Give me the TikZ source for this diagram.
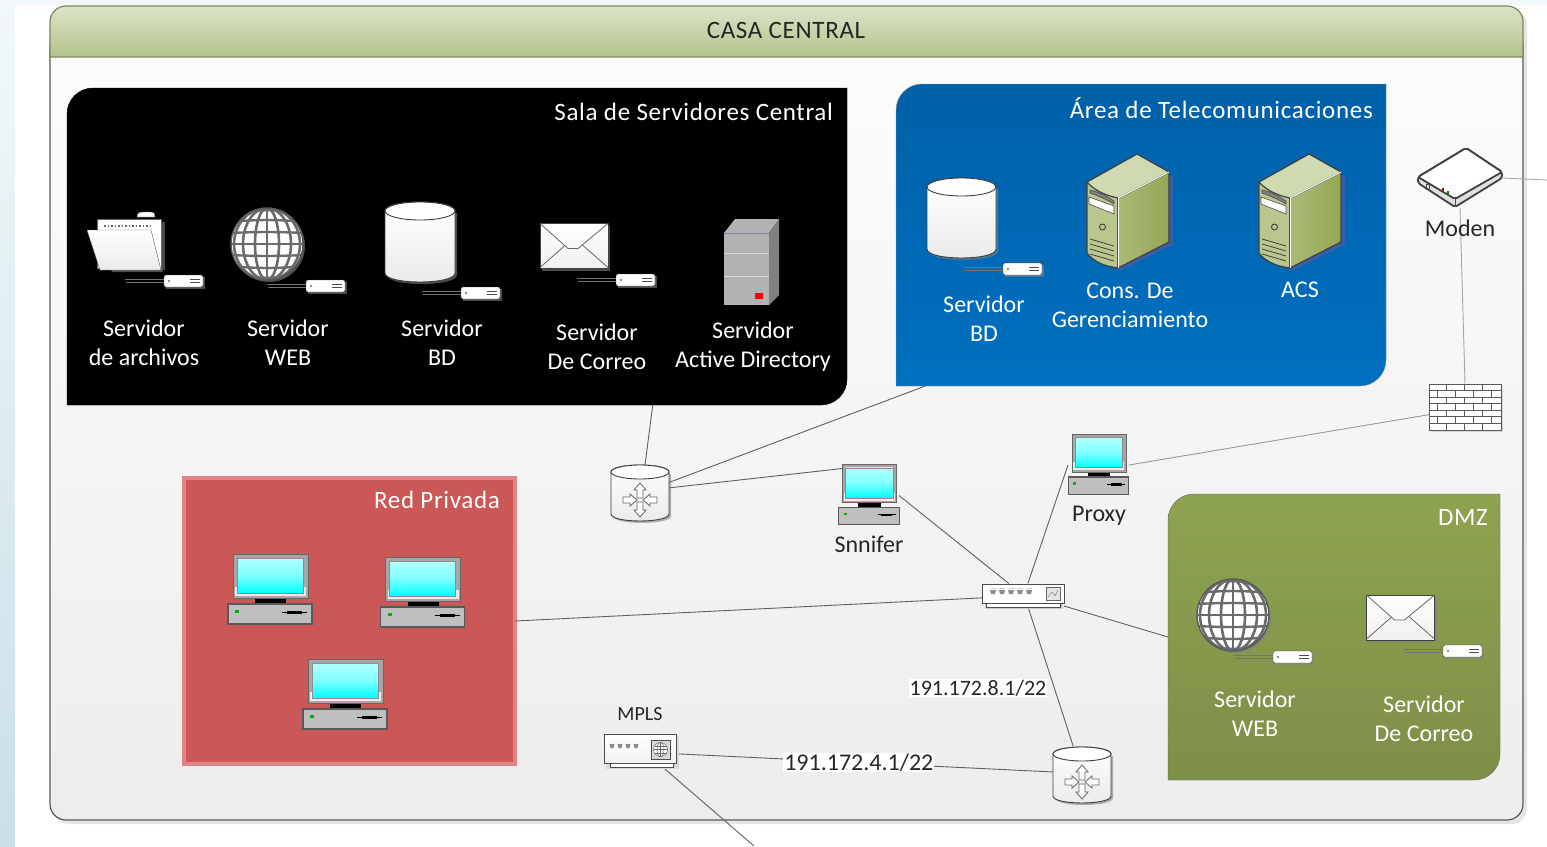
\documentclass[tikz,border=0pt]{standalone}
\usepackage{fontspec}
\setmainfont{Carlito}
\usetikzlibrary{calc}
\definecolor{headtop}{HTML}{DCE4C9}
\definecolor{headbot}{HTML}{B2C38C}
\definecolor{headline}{HTML}{7B8A5C}
\definecolor{bluetop}{HTML}{0060A8}
\definecolor{bluebot}{HTML}{0070C0}
\definecolor{redzone}{HTML}{CC5757}
\definecolor{redline}{HTML}{E08484}
\definecolor{greentop}{HTML}{8EA351}
\definecolor{greenbot}{HTML}{7E8F47}
\definecolor{towerside}{HTML}{95A755}
\definecolor{towerfront}{HTML}{B9C78E}
\definecolor{towertop}{HTML}{CFD9B2}
\definecolor{wire}{HTML}{606060}
\definecolor{iconline}{HTML}{404040}
\definecolor{stripetop}{HTML}{F2F8FA}
\definecolor{stripebot}{HTML}{C9E0E7}
\tikzset{
	hitbox/.style={inner sep=0pt, outer sep=0pt},
	link/.style={color=wire, line width=0.9pt},
	lblblack/.style={font=\fontsize{#1}{29}\selectfont, align=center, inner sep=0pt, text=black!85},
	lblblack/.default=24,
	lblwhite/.style={font=\fontsize{24}{29}\selectfont, align=center, inner sep=0pt, text=white},
	lblhead/.style={font=\fontsize{25}{29}\selectfont\addfontfeature{LetterSpace=2.7}, inner sep=0pt, text=#1},
	lblip/.style={font=\fontsize{#1}{24}\selectfont, fill=white, text=black!85, inner sep=1pt},
	iconshadow/.style={fill=gray, fill opacity=0.6, draw=none},
}
\def\zonebox[#1](#2){\draw[#1] (#2.west) [rounded corners=26pt] -- (#2.north west) [sharp corners] -- (#2.north east) [rounded corners=26pt] -- (#2.south east) [sharp corners] -- (#2.south west) -- cycle;}
\def\pcicon(#1)[#2,#3]{
	\begin{scope}[shift={(#1)}, xscale=#2, yscale=#3]
		\draw[fill=black!35, draw=black!60] (-37,-36) rectangle (38,8);
		\fill[white!90!red] (-35,-3) rectangle (36,6);
		\draw[draw=black!45, top color=white!70!cyan, bottom color=cyan, middle color=cyan!50] (-33,-32) rectangle (33,3);
		\fill[black] (-15,9) rectangle (16,13);
		\draw[fill=black!25, draw=black!65, line width=1.2pt] (-42,14) rectangle (42,34);
		\fill[green!70!black] (-35,20) rectangle (-31,23);
		\draw[black, line width=0.8pt] (12,22.5) -- (37,22.5);
		\draw[black, line width=2.5pt] (17,22.5) -- (32,22.5);
	\end{scope}
}
\def\cylicon(#1)(#2,#3,#4){
	\begin{scope}[shift={(#1)}]
		\fill[iconshadow] (-#2+2,-#3+2) -- (-#2+2,#3+2) .. controls (-#2+2,#3+2+1.33*#4) and (#2+2,#3+2+1.33*#4) .. (#2+2,#3+2) -- (#2+2,-#3+2) -- cycle;
		\draw[draw=iconline, top color=white, bottom color=black!8, line width=0.9pt] (-#2,-#3) -- (-#2,#3) .. controls (-#2,#3+1.33*#4) and (#2,#3+1.33*#4) .. (#2,#3) -- (#2,-#3) .. controls (#2,-#3-1.33*#4) and (-#2,-#3-1.33*#4) .. (-#2,-#3) -- cycle;
		\draw[fill=white, draw=iconline, line width=0.9pt] (0,-#3) ellipse (#2pt and #4pt);
	\end{scope}
}
\def\routericon(#1){
	\cylicon(#1)(29,21,7)
	\begin{scope}[shift={(#1)}, shift={(0,7)}]
		\foreach \rot in {0,180} {
			\draw[rotate=\rot, fill=white, draw=black!60, line width=0.8pt] (0,-17) -- (6,-10) -- (3,-10) -- (3,-2) -- (-3,-2) -- (-3,-10) -- (-6,-10) -- cycle;
		}
		\foreach \rot in {90,270} {
			\draw[rotate=\rot, fill=white, draw=black!60, line width=0.8pt] (0,-3) -- (6,-10) -- (3,-10) -- (3,-17) -- (-3,-17) -- (-3,-10) -- (-6,-10) -- cycle;
		}
	\end{scope}
}
\def\badgeicon(#1,#2){
	\begin{scope}[shift={(#1,#2)}]
		\fill[iconshadow] (2,2) rectangle (41,14);
		\draw[black!55, line width=0.7pt] (-39,4) -- (0,4);
		\draw[black!55, line width=0.7pt] (-38,7) -- (0,7);
		\draw[fill=white, draw=iconline, rounded corners=1.5pt] (0,0) rectangle (39,12);
		\fill[black!60] (5,6) circle (1.2pt);
		\draw[black!70, line width=0.9pt] (26,4) -- (36,4);
		\draw[black!70, line width=0.9pt] (26,7.5) -- (36,7.5);
	\end{scope}
}
\def\globeicon(#1){
	\begin{scope}[shift={(#1)}]
		\fill[iconshadow] (2,2) circle (36pt);
		\fill[white] (0,0) circle (36pt);
		\begin{scope}
			\clip (0,0) circle (36pt);
			\foreach \rad in {12,24,33} {
				\draw[black!58, line width=2.6pt] (0,0) ellipse (\rad pt and 36pt);
			}
			\foreach \hgt in {-31,-22,-11,11,22,31} {
				\draw[black!58, line width=2.4pt] (-36,\hgt) .. controls (-12,{\hgt*1.12}) and (12,{\hgt*1.12}) .. (36,\hgt);
			}
			\draw[black!58, line width=2.4pt] (-36,0) -- (36,0);
			\draw[black!58, line width=2.6pt] (0,-36) -- (0,36);
		\end{scope}
		\draw[black!65, line width=1.4pt] (0,0) circle (36pt);
	\end{scope}
}
\def\mailicon(#1){
	\begin{scope}[shift={(#1)}]
		\fill[iconshadow] (-32,-20) rectangle (36,25);
		\draw[draw=iconline, top color=white, bottom color=black!6, line width=0.9pt] (-34,-22) rectangle (34,23);
		\draw[black!60, line width=0.8pt] (-34,-22) -- (-6,3) -- (4,3) -- (34,-22);
		\draw[black!60, line width=0.8pt] (-34,22) -- (-9,0);
		\draw[black!60, line width=0.8pt] (34,22) -- (9,0);
	\end{scope}
}
\def\towericon(#1){
	\begin{scope}[shift={(#1)}]
		\fill[blue!30!gray, fill opacity=0.6] (-38,44) -- (-8,60) -- (45,34) -- (45,-36) -- (20,-30) -- cycle;
		\draw[draw=iconline, fill=towerfront, line width=1.2pt, line join=round] (-41,-29) -- (-10,-13) -- (-10,57) .. controls (-25,55) and (-35,50) .. (-41,42) -- cycle;
		\draw[draw=iconline, left color=towerfront!60!towerside, right color=towerside, line width=1.2pt, line join=round] (-10,-13) -- (41,-39) -- (41,31) -- (-10,57) -- cycle;
		\draw[draw=iconline, fill=towertop, line width=1.2pt, line join=round] (-41,-29) -- (9,-57) -- (41,-39) -- (-10,-13) .. controls (-25,-16) and (-35,-22) .. (-41,-29) -- cycle;
		\draw[white, line width=1pt] (-10,-13) -- (41,-39);
		\draw[white, line width=1pt] (-10,-13) -- (-10,57);
		\draw[black!70, fill=black!50, line width=0.6pt] (-38,-21) .. controls (-28,-19) and (-20,-14) .. (-14,-10) -- (-14,-7) .. controls (-22,-12) and (-30,-15) .. (-38,-18) -- cycle;
		\draw[black!70, fill=white, line width=0.6pt] (-39,-14) -- (-14,-5) -- (-14,3) -- (-39,-7) -- cycle;
		\draw[iconline, fill=towerfront, line width=0.9pt] (-25.5,16) circle (3pt);
		\foreach \off in {0,5,10,15} {
			\draw[iconline, line width=0.8pt] (-38,{33+\off-5}) -- (-14,{40+\off-5});
		}
	\end{scope}
}

\begin{document}
\begin{tikzpicture}[x=1pt, y=-1pt]
			%%%%% START %%%%%
			\useasboundingbox (0,0) rectangle (1547,846);
			
			\fill[top color=stripetop, bottom color=stripebot] (0,0) rectangle (15,846);
			\fill[stripetop] (15,0) rectangle (1547,5);
			
			% casa central
			\fill[black!10, rounded corners=16pt] (53,9) rectangle (1527,824);
			\draw[draw=black!65, line width=1.2pt, top color=black!1, bottom color=black!7, rounded corners=16pt] (50,30) rectangle (1523,820);
			\draw[draw=headline, line width=1.2pt, top color=headtop, bottom color=headbot] (50,57) -- (50,22) arc[start angle=180, end angle=90, radius=16pt] -- (1507,6) arc[start angle=90, end angle=0, radius=16pt] -- (1523,57) -- cycle;
			\node[lblhead=black!85] (casa) at (786,30) {CASA CENTRAL};
			
			% zones
			\node[hitbox, minimum width=780pt, minimum height=317pt] (sala) at (457,246.5) {};
			\node[hitbox, minimum width=490pt, minimum height=302pt] (telecom) at (1141,235) {};
			\node[hitbox, minimum width=331pt, minimum height=286pt] (redpriv) at (349.5,621) {};
			\node[hitbox, minimum width=332pt, minimum height=286pt] (dmz) at (1334,637) {};
			
			\zonebox[fill=black!25, draw=none, shift={(3,3)}](sala)
			\zonebox[fill=black!25, draw=none, shift={(3,3)}](telecom)
			\zonebox[fill=black!25, draw=none, shift={(3,3)}](dmz)
			\zonebox[fill=black](sala)
			\zonebox[draw=black!40, top color=bluetop, bottom color=bluebot](telecom)
			\zonebox[draw=black!60, top color=greentop, bottom color=greenbot](dmz)
			\draw[fill=redzone, draw=redline, line width=4.5pt] (redpriv.south west) rectangle (redpriv.north east);
			
			% devices
			\node[hitbox, minimum width=58pt, minimum height=58pt] (routerA) at (640,493) {};
			\node[hitbox, minimum width=58pt, minimum height=58pt] (routerB) at (1082,775) {};
			\node[hitbox, minimum width=60pt, minimum height=60pt] (snnifer) at (869,495.5) {};
			\node[hitbox, minimum width=61pt, minimum height=60pt] (proxy) at (1098.5,465) {};
			\node[hitbox, minimum width=82pt, minimum height=23pt] (switch) at (1023,595) {};
			\node[hitbox, minimum width=72pt, minimum height=34pt] (mpls) at (640,750) {};
			\node[hitbox, minimum width=72pt, minimum height=46pt] (firewall) at (1465,407) {};
			\node[hitbox, minimum width=84pt, minimum height=60pt] (moden) at (1460,178) {};
			\coordinate (wan) at (1547,180);
			\coordinate (mplsout) at (754,846);
			
			% links
			\draw[link] (routerA.80) -- (sala.-39.1);
			\draw[link] (routerA.20) -- (telecom.215.2);
			\draw[link] (routerA.10) -- (snnifer.north);
			\draw[link] (snnifer.east) -- (switch.141);
			\draw[link] (proxy.west) -- (switch.67);
			\draw[link, color=black!40] (proxy.east) -- (firewall.192.5);
			\draw[link, color=black!35] (moden.south) -- (firewall.north);
			\draw[link, color=black!35] (moden.east) -- (wan);
			\draw[link] (redpriv.east) -- (switch.184);
			\draw[link] (switch.-15.7) -- (dmz.west);
			\draw[link] (switch.-67) -- (routerB.107);
			\draw[link] (mpls.-37.7) -- (mplsout);
			\draw[link] (mpls.-6) -- node[lblip=24, pos=0.485] (ipmpls) {191.172.4.1/22} (routerB.174);
			\node[lblip=22] (ipswitch) at (978,688) {191.172.8.1/22};
			
			% sala de servidores
			\node[lblhead=white, anchor=east] (salatxt) at (833,112) {Sala de Servidores Central};
			\fill[iconshadow] (100,231) -- (151,231) -- (163,272) -- (112,272) -- cycle;
			\fill[iconshadow] (100,222) rectangle (165,270);
			\draw[fill=white, draw=black!60] (137,217) .. controls (137,212) and (140,212) .. (145,212) -- (150,212) .. controls (155,212) and (155,214) .. (155,217) -- cycle;
			\draw[fill=white, draw=black!60] (97,219) rectangle (161,268);
			\draw[black!60, dotted, line width=1.5pt] (104,226) -- (152,226);
			\draw[draw=black!60, top color=white, bottom color=black!8, line join=round] (87,230) -- (151,230) -- (161,270) -- (100,270) -- cycle;
			\globeicon(267,244)
			\cylicon(420,242)(35,31,9)
			\mailicon(574,245.5)
			\badgeicon(164,275)
			\badgeicon(306,280)
			\badgeicon(461,287)
			\badgeicon(616,274)
			% active directory
			\fill[black!30] (724,233) -- (735,219) -- (779,219) -- (769,233) -- cycle;
			\fill[black!50] (769,233) -- (779,219) -- (779,295) -- (769,305) -- cycle;
			\fill[black!30] (724,233) rectangle (769,305);
			\draw[blue!40!black!50!white, line width=1pt] (724,233) -- (769,233);
			\draw[black!15, line width=1pt] (724,253) -- (769,253);
			\draw[black!15, line width=1pt] (724,276) -- (769,276);
			\fill[red] (755,293) rectangle (763,299);
			\node[lblwhite] (txtarch) at (144,343) {Servidor\\de archivos};
			\node[lblwhite] (txtweb) at (288,343) {Servidor\\WEB};
			\node[lblwhite] (txtbd) at (442,343) {Servidor\\BD};
			\node[lblwhite] (txtmail) at (597,347) {Servidor\\De Correo};
			\node[lblwhite] (txtad) at (753,347) {Servidor\\Active Directory};
			
			% telecomunicaciones
			\node[lblhead=white, anchor=east] (telecomtxt) at (1373,108) {Área de Telecomunicaciones};
			\cylicon(961.5,218)(34.5,31,9)
			\badgeicon(1003,263)
			\towericon(1128,211)
			\towericon(1300,211)
			\node[lblwhite] (txtbd2) at (984,319) {Servidor\\BD};
			\node[lblwhite] (txtcons) at (1130,305) {Cons. De\\Gerenciamiento};
			\node[lblwhite] (txtacs) at (1300,290) {ACS};
			
			% moden
			\begin{scope}[shift={(moden.center)}]
				\draw[draw=black!75, line width=1.8pt, fill=black!12, rounded corners=2pt] (-42,-1) -- (6,-30) -- (42,-6) -- (42,0) -- (-5,29) -- (-42,5) -- cycle;
				\draw[draw=black!75, fill=white, line width=1.8pt, rounded corners=2pt] (-42,-1) -- (6,-30) -- (42,-6) -- (-5,21) -- cycle;
				\draw[black!70, line width=0.8pt] (-5,21) -- (-5,29);
				\draw[black!70, line width=0.8pt] (-34,6) rectangle (-31,11);
				\fill[red!60!black] (-18,10) rectangle (-16,13);
				\fill[green!50!black] (-13,13) rectangle (-11,16);
			\end{scope}
			\node[lblblack] (txtmoden) at (1460,228) {Moden};
			
			% firewall
			\begin{scope}[shift={(firewall.north west)}]
				\fill[black!15] (2,2) rectangle (74,48);
				\draw[fill=white, draw=black!65, line width=0.9pt] (0,0) rectangle (72,46);
				\foreach \rownum in {1,...,6} {
					\draw[black!65, line width=0.8pt] (0,{\rownum*46/7}) -- (72,{\rownum*46/7});
				}
				\foreach \rownum in {0,2,4,6} {
					\foreach \brick in {17,35,53} {
						\draw[black!65, line width=0.8pt] (\brick,{\rownum*46/7}) -- (\brick,{(\rownum+1)*46/7});
					}
				}
				\foreach \rownum in {1,3,5} {
					\foreach \brick in {8,26,44,62} {
						\draw[black!65, line width=0.8pt] (\brick,{\rownum*46/7}) -- (\brick,{(\rownum+1)*46/7});
					}
				}
			\end{scope}
			
			% pcs
			\pcicon(270,590)[1,1]
			\pcicon(422.5,593)[1,1]
			\pcicon(345,695)[1,1]
			\pcicon(snnifer.center)[0.72,0.86]
			\pcicon(proxy.center)[0.72,0.86]
			\node[lblhead=white] (redtxt) at (437,500) {Red Privada};
			\node[lblblack] (txtsnnifer) at (869,544) {Snnifer};
			\node[lblblack] (txtproxy) at (1099,516) {Proxy};
			
			% routers
			\routericon(routerA.center)
			\routericon(routerB.center)
			
			% switch
			\begin{scope}[shift={(switch.center)}]
				\fill[black!20] (-38,8) rectangle (40,14);
				\draw[fill=white, draw=black!70] (-37,8) rectangle (37,12);
				\draw[fill=white, draw=black!70, line width=1pt] (-41,-11) rectangle (41,8);
				\foreach \px in {-30,-21,-12,-3,6} {
					\fill[black!45] (\px-3,-5) -- (\px+3,-5) -- (\px+2,-1) -- (\px-2,-1) -- cycle;
					\fill[black!20] (\px-2.5,-7) rectangle (\px+2.5,-6);
				}
				\draw[fill=black!10, draw=black!60] (23,-8) rectangle (37,5);
				\draw[black!50, line width=0.5pt] (25,2) -- (29,-3) -- (32,1) -- (35,-5);
			\end{scope}
			
			% mpls
			\begin{scope}[shift={(mpls.center)}]
				\fill[black!15] (-34,-14) rectangle (39,19);
				\draw[fill=white, draw=black!70] (-30,13) rectangle (33,17);
				\draw[draw=black!70, top color=white, bottom color=black!5, line width=1pt] (-36,-16) rectangle (36,13);
				\foreach \px in {-28,-20,-12,-4} {
					\fill[black!45] (\px-2.5,-6) -- (\px+2.5,-6) -- (\px+1.5,-2) -- (\px-1.5,-2) -- cycle;
				}
				\draw[fill=black!15, draw=black!70] (11,-10) rectangle (30,9);
				\draw[fill=white, draw=black!60, line width=0.5pt] (20.5,-0.5) circle (7pt);
				\draw[black!60, line width=0.5pt] (13.5,-0.5) -- (27.5,-0.5);
				\draw[black!60, line width=0.5pt] (20.5,-7.5) -- (20.5,6.5);
				\draw[black!60, line width=0.5pt] (20.5,-0.5) ellipse (3.5pt and 7pt);
				\draw[black!60, line width=0.5pt] (14.5,-4) -- (26.5,-4);
				\draw[black!60, line width=0.5pt] (14.5,3) -- (26.5,3);
			\end{scope}
			\node[lblblack=20] (txtmpls) at (640,714) {MPLS};
			
			% dmz
			\node[lblhead=white, anchor=east] (dmztxt) at (1488,517) {DMZ};
			\globeicon(1233,615)
			\mailicon(1400.5,617)
			\badgeicon(1273,651)
			\badgeicon(1443,645)
			\node[lblwhite] (txtweb2) at (1255,714) {Servidor\\WEB};
			\node[lblwhite] (txtmail2) at (1424,719) {Servidor\\De Correo};
			
			%%%%% END %%%%%
		\end{tikzpicture}
\end{document}
